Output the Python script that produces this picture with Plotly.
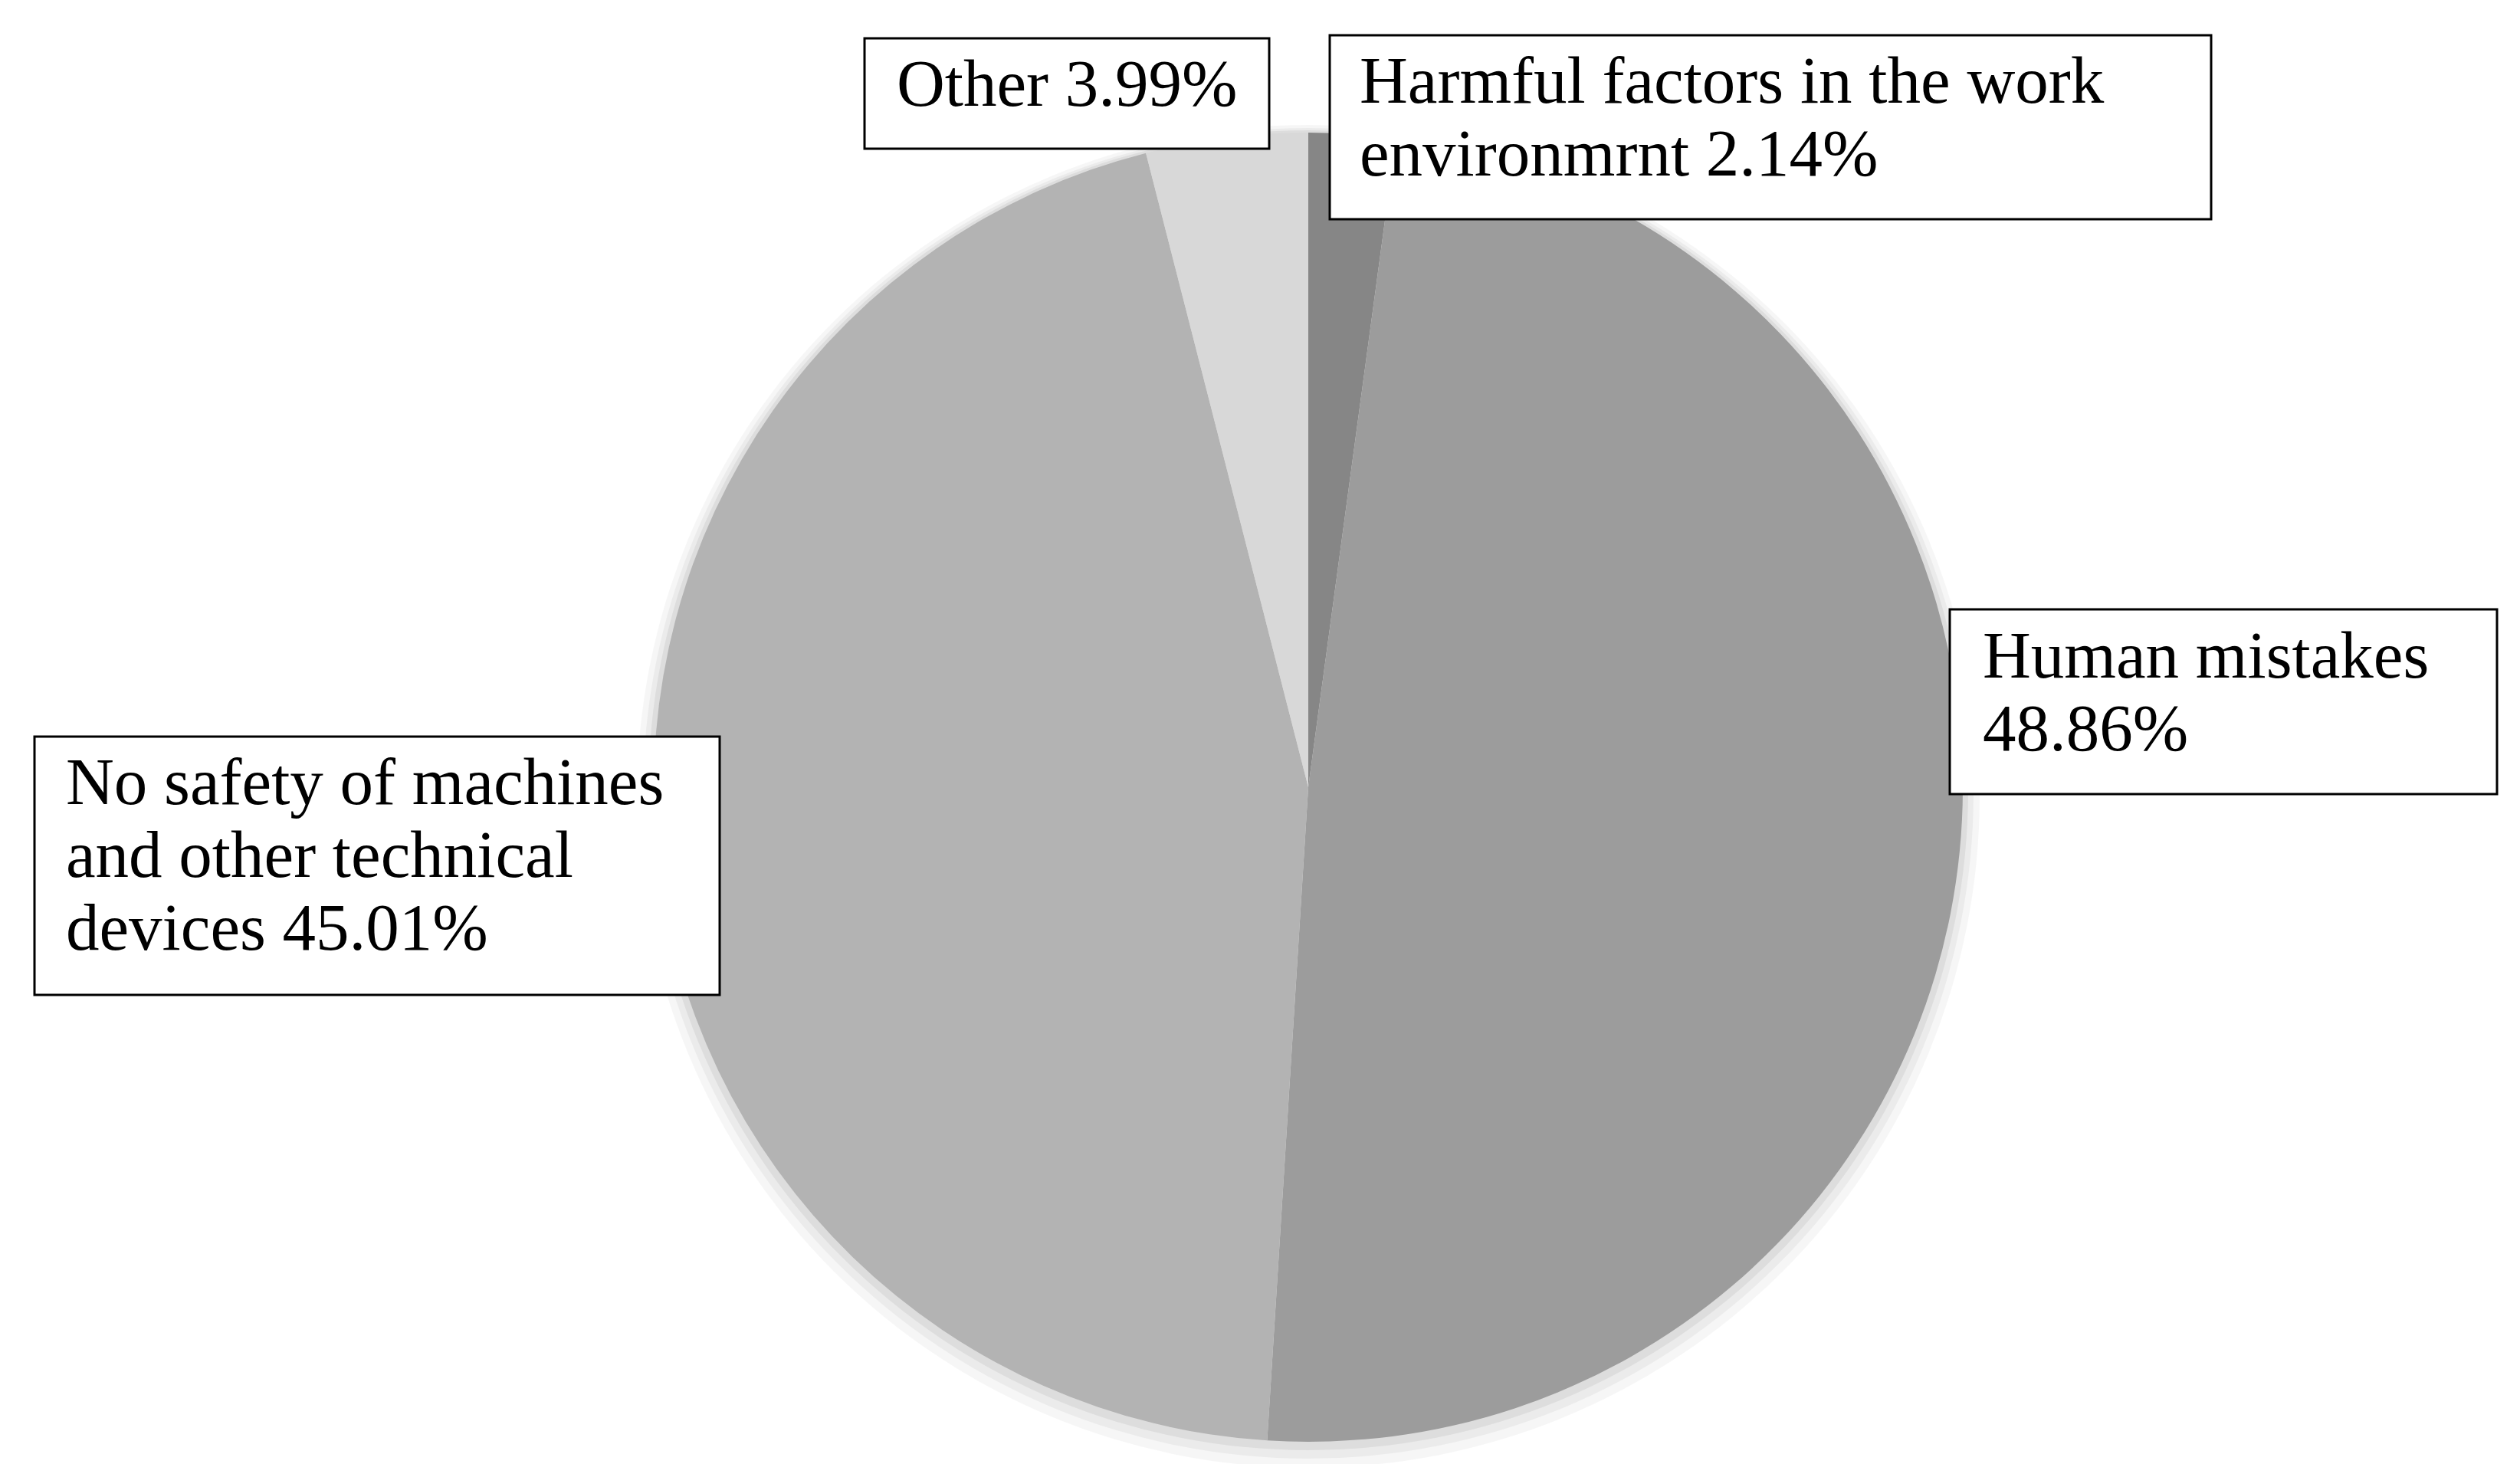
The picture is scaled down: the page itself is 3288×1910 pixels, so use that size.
import plotly.graph_objects as go

labels = ["Harmful factors in the work environmrnt", "Human mistakes",
          "No safety of machines and other technical devices", "Other"]
values = [2.14, 48.86, 45.01, 3.99]
colors = ["#868686", "#9c9c9c", "#b3b3b3", "#d8d8d8"]

# box texts, line by line, as printed in the source figure
box_lines = [
    ["Harmful factors in the work", "environmrnt 2.14%"],
    ["Human mistakes", "48.86%"],
    ["No safety of machines", "and other technical", "devices 45.01%"],
    ["Other 3.99%"],
]

W, H = 3288, 1910
cx, cy, r = 1699, 1019, 854
FS = 87

fig = go.Figure()

# soft shadow round the pie, a bit heavier below
for grow, dy, col in [(22, 12, "rgba(0,0,0,0.035)"), (14, 8, "rgba(0,0,0,0.045)"), (7, 4, "rgba(0,0,0,0.06)")]:
    rr = r + grow
    fig.add_shape(type="circle", xref="paper", yref="paper", layer="below",
                  x0=(cx - rr) / W, x1=(cx + rr) / W,
                  y0=1 - (cy + dy + rr) / H, y1=1 - (cy + dy - rr) / H,
                  fillcolor=col, line_width=0)

fig.add_trace(go.Pie(
    labels=labels, values=values, sort=False, direction="clockwise",
    rotation=0, textinfo="none", hoverinfo="label+percent",
    marker=dict(colors=colors, line=dict(width=0)),
    domain=dict(x=[(cx - r) / W, (cx + r) / W], y=[1 - (cy + r) / H, 1 - (cy - r) / H]),
    showlegend=False,
))

# label boxes (pixel positions in the 3288x1910 page)
boxes = [
    (1727, 38, 2877, 278),
    (2536, 787, 3250, 1028),
    (37, 953, 931, 1290),
    (1120, 42, 1648, 186),
]
# left x of the text and the middle of the capitals on the first line
text_pos = [(1764, 105), (2577, 855), (76, 1020), (1160, 109)]
line_gap = 95

for (x0, y0, x1, y1), (tx, ty), lines in zip(boxes, text_pos, box_lines):
    fig.add_shape(type="rect", xref="paper", yref="paper",
                  x0=x0 / W, x1=x1 / W, y0=1 - y1 / H, y1=1 - y0 / H,
                  fillcolor="white", line=dict(color="black", width=3))
    for k, line in enumerate(lines):
        top = ty + k * line_gap - 0.675 * FS
        fig.add_annotation(x=tx / W, y=1 - top / H, xref="paper", yref="paper",
                           xanchor="left", yanchor="top", align="left",
                           text=line, showarrow=False,
                           font=dict(family="Liberation Serif", size=FS, color="black"))

fig.update_layout(width=W, height=H, margin=dict(l=0, r=0, t=0, b=0),
                  paper_bgcolor="white", plot_bgcolor="white")

fig.write_html("out.html")
